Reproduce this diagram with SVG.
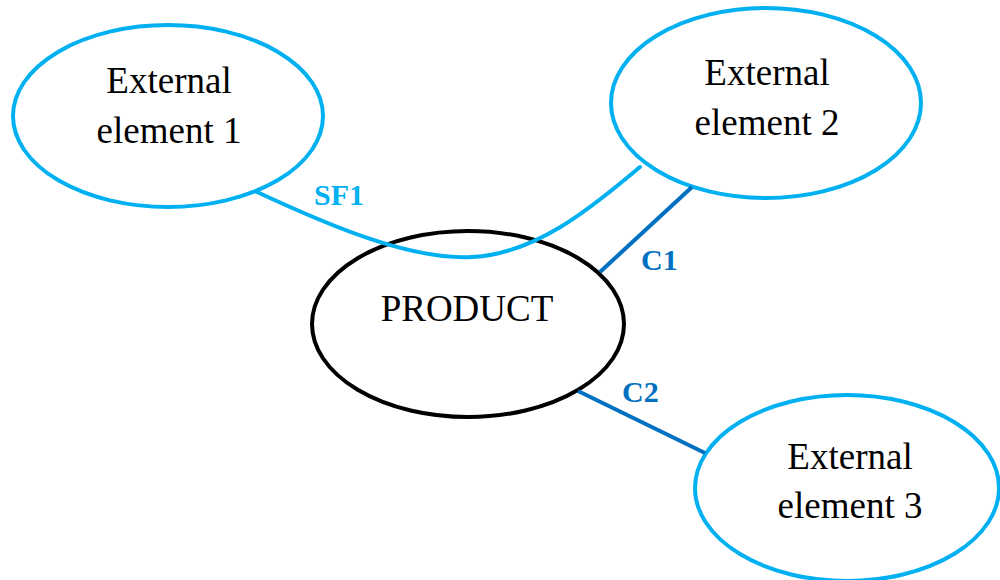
<svg xmlns="http://www.w3.org/2000/svg" width="1000" height="580" viewBox="0 0 1000 580">
  <style>
    .ext { fill: #ffffff; stroke: #00B0F0; stroke-width: 4; }
    .prod { fill: #ffffff; stroke: #000000; stroke-width: 4; }
    .lbl { font-family: "Liberation Serif", "Times New Roman", serif; font-size: 37px; fill: #000000; text-anchor: middle; }
    .sf { fill: none; stroke: #00B0F0; stroke-width: 4; stroke-linecap: round; }
    .c { fill: none; stroke: #0070C0; stroke-width: 4; }
    .tag { font-family: "Liberation Serif", "Times New Roman", serif; font-size: 30px; font-weight: bold; }
  </style>
  <rect width="1000" height="580" fill="#ffffff"/>

  <g id="ext1">
    <ellipse class="ext" cx="168" cy="116" rx="155" ry="91"/>
    <text class="lbl" x="169" y="93">External</text>
    <text class="lbl" x="169" y="143">element 1</text>
  </g>

  <g id="ext2">
    <ellipse class="ext" cx="766" cy="103" rx="155" ry="95"/>
    <text class="lbl" x="767" y="85">External</text>
    <text class="lbl" x="767" y="135">element 2</text>
  </g>

  <g id="ext3">
    <ellipse class="ext" cx="847" cy="488" rx="152" ry="93"/>
    <text class="lbl" x="850" y="469">External</text>
    <text class="lbl" x="850" y="518">element 3</text>
  </g>

  <g id="product">
    <ellipse class="prod" cx="468" cy="324" rx="156" ry="93"/>
    <text class="lbl" x="467" y="321">PRODUCT</text>
  </g>

  <g id="connectors">
    <path class="sf" d="M257,192 C330,226 410,260 472,257 C540,254 600,200 640,167"/>
    <text class="tag" x="314" y="205" fill="#00B0F0">SF1</text>
    <line class="c" x1="600" y1="272" x2="692" y2="187"/>
    <text class="tag" x="641" y="270" fill="#0070C0">C1</text>
    <line class="c" x1="578" y1="391" x2="705" y2="453"/>
    <text class="tag" x="622" y="402" fill="#0070C0">C2</text>
  </g>
</svg>
